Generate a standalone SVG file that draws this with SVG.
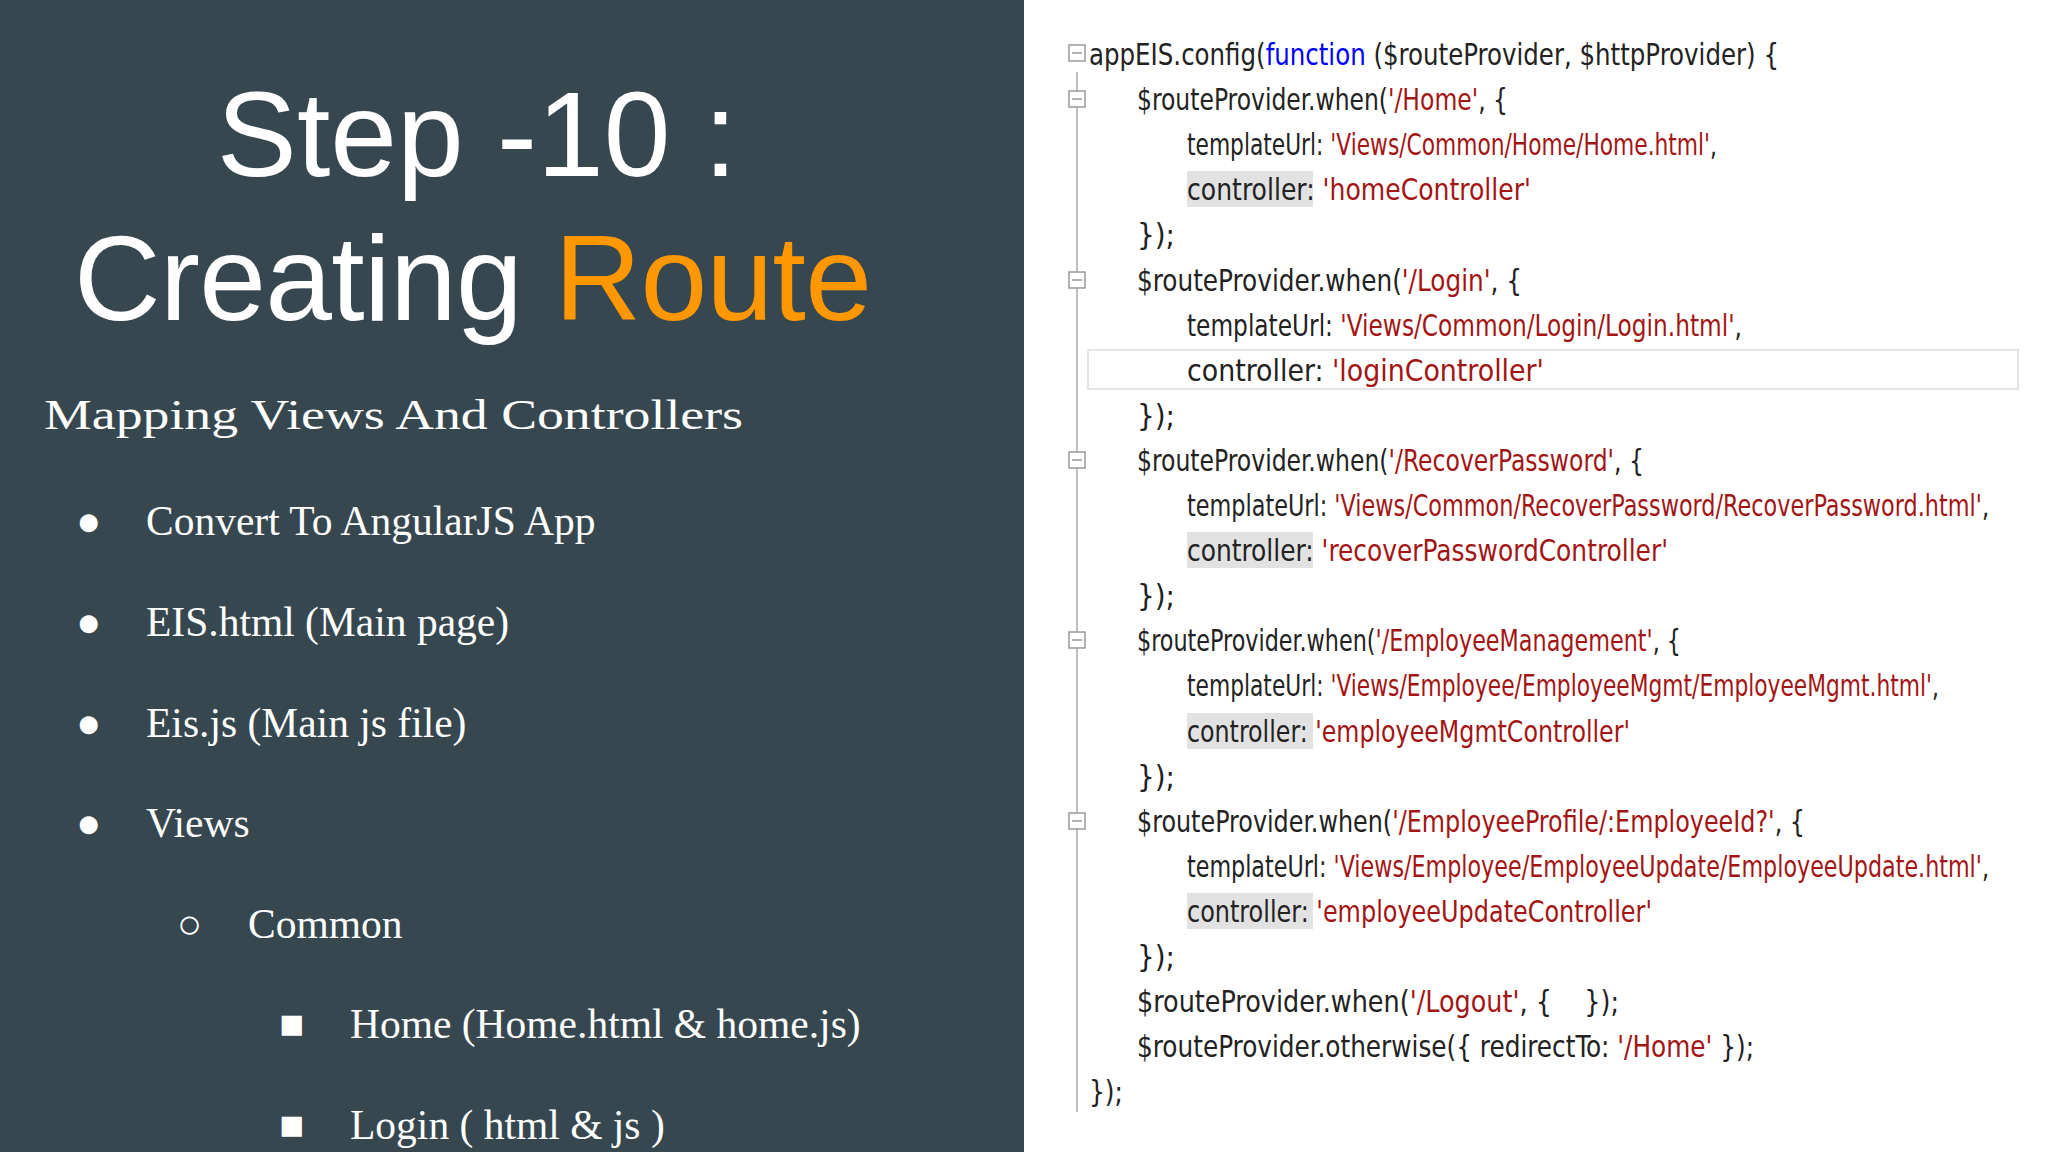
<svg xmlns="http://www.w3.org/2000/svg" width="2048" height="1152" viewBox="0 0 2048 1152">
<style>
.t{font-family:"Liberation Sans",Arial,sans-serif;fill:#fff;font-size:120px}
.s{font-family:"Liberation Serif","Times New Roman",serif;fill:#fff;font-size:41.5px}
.c{font-family:"DejaVu Sans Condensed","DejaVu Sans",sans-serif;font-size:30px;fill:#222}
.r{fill:#a31515}.b{fill:#0000ff}
.hl{fill:#e2e2e2}
.fold{fill:#fff;stroke:#999;stroke-width:1.5}
</style>
<rect width="1024" height="1152" fill="#37474f"/>
<rect x="1024" width="1024" height="1152" fill="#fff"/>
<g id="title">
<text class="t" x="477" y="176" text-anchor="middle">Step -10 :</text>
<text class="t" x="74" y="320" font-size="124" textLength="798">Creating <tspan fill="#ff9800">Route</tspan></text>
</g>
<g id="bullets">
<text class="s" x="44" y="429" font-size="52" textLength="699" lengthAdjust="spacingAndGlyphs">Mapping Views And Controllers</text>
<text class="s" x="76" y="535">●</text><text class="s" x="146" y="535">Convert To AngularJS App</text>
<text class="s" x="76" y="636">●</text><text class="s" x="146" y="636">EIS.html (Main page)</text>
<text class="s" x="76" y="737">●</text><text class="s" x="146" y="737">Eis.js (Main js file)</text>
<text class="s" x="76" y="837">●</text><text class="s" x="146" y="837">Views</text>
<text class="s" x="177" y="938">○</text><text class="s" x="248" y="938">Common</text>
<text class="s" x="279" y="1038">■</text><text class="s" x="350" y="1038">Home (Home.html &amp; home.js)</text>
<text class="s" x="279" y="1139">■</text><text class="s" x="350" y="1139">Login ( html &amp; js )</text>
</g>
<g id="code">
<line x1="1077" y1="72" x2="1077" y2="1112" stroke="#aaa" stroke-width="1.5"/>
<rect x="1088" y="350" width="930" height="39" fill="none" stroke="#e4e4e4" stroke-width="2"/>
<rect class="fold" x="1069" y="45" width="16" height="16"/><line x1="1072" y1="53" x2="1082" y2="53" stroke="#666"/>
<rect class="fold" x="1069" y="91" width="16" height="16"/><line x1="1072" y1="99" x2="1082" y2="99" stroke="#666"/>
<rect class="fold" x="1069" y="272" width="16" height="16"/><line x1="1072" y1="280" x2="1082" y2="280" stroke="#666"/>
<rect class="fold" x="1069" y="452" width="16" height="16"/><line x1="1072" y1="460" x2="1082" y2="460" stroke="#666"/>
<rect class="fold" x="1069" y="632" width="16" height="16"/><line x1="1072" y1="640" x2="1082" y2="640" stroke="#666"/>
<rect class="fold" x="1069" y="813" width="16" height="16"/><line x1="1072" y1="821" x2="1082" y2="821" stroke="#666"/>
<rect class="hl" x="1187" y="171" width="126" height="36"/>
<rect class="hl" x="1187" y="532" width="126" height="36"/>
<rect class="hl" x="1187" y="713" width="126" height="36"/>
<rect class="hl" x="1187" y="893" width="126" height="36"/>
<text class="c" x="1089" y="65" textLength="690" lengthAdjust="spacingAndGlyphs">appEIS.config(<tspan class="b">function</tspan> ($routeProvider, $httpProvider) {</text>
<text class="c" x="1137" y="110" textLength="371" lengthAdjust="spacingAndGlyphs">$routeProvider.when(<tspan class="r">'/Home'</tspan>, {</text>
<text class="c" x="1187" y="155" textLength="530" lengthAdjust="spacingAndGlyphs">templateUrl: <tspan class="r">'Views/Common/Home/Home.html'</tspan>,</text>
<text class="c" x="1187" y="200" textLength="344" lengthAdjust="spacingAndGlyphs">controller: <tspan class="r">'homeController'</tspan></text>
<text class="c" x="1137" y="245" textLength="38" lengthAdjust="spacingAndGlyphs">});</text>
<text class="c" x="1137" y="291" textLength="385" lengthAdjust="spacingAndGlyphs">$routeProvider.when(<tspan class="r">'/Login'</tspan>, {</text>
<text class="c" x="1187" y="336" textLength="555" lengthAdjust="spacingAndGlyphs">templateUrl: <tspan class="r">'Views/Common/Login/Login.html'</tspan>,</text>
<text class="c" x="1187" y="381" textLength="357" lengthAdjust="spacingAndGlyphs">controller: <tspan class="r">'loginController'</tspan></text>
<text class="c" x="1137" y="426" textLength="38" lengthAdjust="spacingAndGlyphs">});</text>
<text class="c" x="1137" y="471" textLength="507" lengthAdjust="spacingAndGlyphs">$routeProvider.when(<tspan class="r">'/RecoverPassword'</tspan>, {</text>
<text class="c" x="1187" y="516" textLength="802" lengthAdjust="spacingAndGlyphs">templateUrl: <tspan class="r">'Views/Common/RecoverPassword/RecoverPassword.html'</tspan>,</text>
<text class="c" x="1187" y="561" textLength="481" lengthAdjust="spacingAndGlyphs">controller: <tspan class="r">'recoverPasswordController'</tspan></text>
<text class="c" x="1137" y="606" textLength="38" lengthAdjust="spacingAndGlyphs">});</text>
<text class="c" x="1137" y="651" textLength="544" lengthAdjust="spacingAndGlyphs">$routeProvider.when(<tspan class="r">'/EmployeeManagement'</tspan>, {</text>
<text class="c" x="1187" y="696" textLength="752" lengthAdjust="spacingAndGlyphs">templateUrl: <tspan class="r">'Views/Employee/EmployeeMgmt/EmployeeMgmt.html'</tspan>,</text>
<text class="c" x="1187" y="742" textLength="443" lengthAdjust="spacingAndGlyphs">controller: <tspan class="r">'employeeMgmtController'</tspan></text>
<text class="c" x="1137" y="787" textLength="38" lengthAdjust="spacingAndGlyphs">});</text>
<text class="c" x="1137" y="832" textLength="668" lengthAdjust="spacingAndGlyphs">$routeProvider.when(<tspan class="r">'/EmployeeProfile/:EmployeeId?'</tspan>, {</text>
<text class="c" x="1187" y="877" textLength="802" lengthAdjust="spacingAndGlyphs">templateUrl: <tspan class="r">'Views/Employee/EmployeeUpdate/EmployeeUpdate.html'</tspan>,</text>
<text class="c" x="1187" y="922" textLength="465" lengthAdjust="spacingAndGlyphs">controller: <tspan class="r">'employeeUpdateController'</tspan></text>
<text class="c" x="1137" y="967" textLength="38" lengthAdjust="spacingAndGlyphs">});</text>
<text class="c" x="1137" y="1012" textLength="482" lengthAdjust="spacingAndGlyphs" xml:space="preserve">$routeProvider.when(<tspan class="r">'/Logout'</tspan>, {    });</text>
<text class="c" x="1137" y="1057" textLength="617" lengthAdjust="spacingAndGlyphs">$routeProvider.otherwise({ redirectTo: <tspan class="r">'/Home'</tspan> });</text>
<text class="c" x="1089" y="1102" textLength="34" lengthAdjust="spacingAndGlyphs">});</text>
</g>
</svg>
